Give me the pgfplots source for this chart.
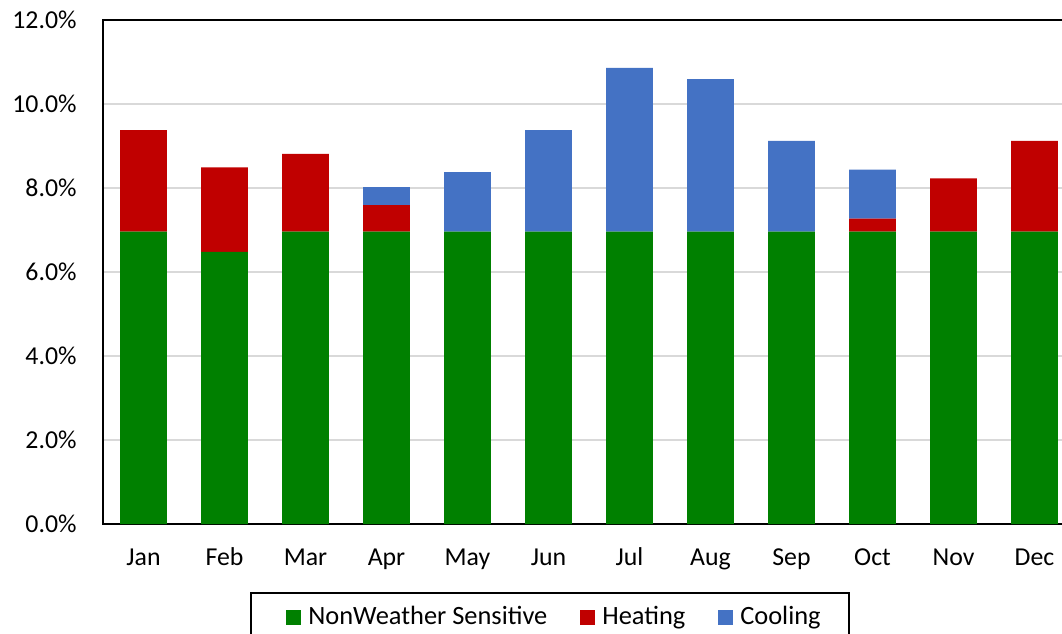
\documentclass[border=0pt]{standalone}
\usepackage{fontspec}
\setmainfont{Carlito}
\usepackage{pgfplots}
\pgfplotsset{compat=1.18}
\definecolor{cgreen}{HTML}{008000}
\definecolor{cred}{HTML}{C00000}
\definecolor{cblue}{HTML}{4472C4}
\definecolor{cgrid}{HTML}{D9D9D9}
\begin{document}
\begin{tikzpicture}
\begin{axis}[
  at={(0pt,0pt)}, anchor=south west,
  scale only axis, width=486pt, height=252pt,
  ybar stacked, bar width=0.576,
  xmin=-0.5, xmax=11.5, ymin=0, ymax=12,
  xtick={0,1,2,3,4,5,6,7,8,9,10,11},
  xticklabels={Jan,Feb,Mar,Apr,May,Jun,Jul,Aug,Sep,Oct,Nov,Dec},
  ytick={0,2,4,6,8,10,12},
  /pgf/number format/assume math mode=true,
  yticklabel={\pgfmathprintnumber[fixed,fixed zerofill,precision=1]{\tick}\%},
  tick style={draw=none},
  tick label style={font=\fontsize{12.9}{15}\selectfont},
  xticklabel style={anchor=base, yshift=-20.5pt},
  yticklabel style={anchor=east, inner xsep=0pt, xshift=-13pt},
  ymajorgrids, major grid style={cgrid, line width=0.75pt},
  axis line style={black, line width=0.8pt},
  legend columns=3,
  legend image code/.code={\fill[#1] (0pt,0pt) rectangle (7.5pt,7.7pt);},
  legend style={at={(axis description cs:0.1883,-0.185)}, anchor=west,
    draw=none, fill=none, inner sep=0pt,
    font=\fontsize{13.2}{15}\selectfont,
    nodes={inner sep=0pt, anchor=base west},
    /tikz/every odd column/.append style={column sep=3.5pt},
    /tikz/every even column/.append style={column sep=16.5pt}},
]
\addplot[fill=cgreen, draw=none] coordinates {(0,6.96) (1,6.48) (2,6.96) (3,6.96) (4,6.96) (5,6.96) (6,6.96) (7,6.96) (8,6.96) (9,6.96) (10,6.96) (11,6.96)};
\addplot[fill=cred, draw=none] coordinates {(0,2.42) (1,2.01) (2,1.85) (3,0.63) (4,0) (5,0) (6,0) (7,0) (8,0) (9,0.31) (10,1.27) (11,2.16)};
\addplot[fill=cblue, draw=none] coordinates {(0,0) (1,0) (2,0) (3,0.43) (4,1.42) (5,2.42) (6,3.90) (7,3.63) (8,2.16) (9,1.17) (10,0) (11,0)};
\legend{NonWeather Sensitive, Heating, Cooling}
\end{axis}
\draw[line width=0.75pt] (74pt,-34.5pt) rectangle (373pt,-70pt);
\pgfresetboundingbox
\useasboundingbox (-51.5pt,-54.5pt) rectangle (479.5pt,262pt);
\end{tikzpicture}
\end{document}
